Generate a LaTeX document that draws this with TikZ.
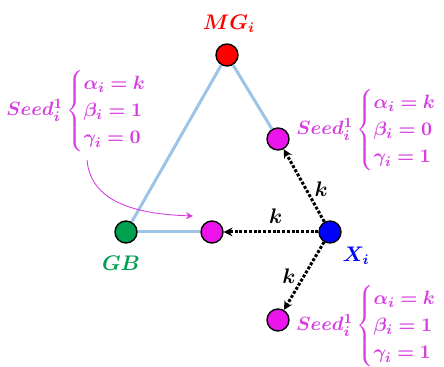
\documentclass[tikz,border=0pt]{standalone}
\usepackage{amsmath}
\usepackage{bm}
\usetikzlibrary{arrows.meta}

\definecolor{seedpink}{RGB}{214,60,224}
\definecolor{nodepink}{RGB}{235,20,235}
\definecolor{gbgreen}{RGB}{0,160,80}
\definecolor{linkblue}{RGB}{157,195,230}

\tikzset{
  vertex/.style={circle,draw=black,line width=0.8pt,minimum size=0.44cm,inner sep=0pt},
  link/.style={linkblue,line width=1.7pt},
  hop/.style={black,densely dotted,line width=1.7pt,-{Stealth[length=5pt,width=5pt]}},
  seedlabel/.style={seedpink,font=\fontsize{11.3}{13}\selectfont,inner sep=0pt},
  hoplabel/.style={black,font=\large,inner sep=1pt},
}

\newcommand{\seedtext}[3]{$\bm{Seed_i^1}\renewcommand{\arraystretch}{1.2}\left\{\begin{array}{@{}l@{}}
  \bm{\alpha_i = #1}\\ \bm{\beta_i = #2}\\ \bm{\gamma_i = #3}\end{array}\right.$}

\begin{document}
\begin{tikzpicture}[x=0.02cm,y=-0.02cm]
\useasboundingbox (0,0) rectangle (444,367);

\node (mg) [vertex,fill=red] at (227,55) {};
\node (gb) [vertex,fill=gbgreen] at (126,232) {};
\node (xi) [vertex,fill=blue] at (330,232) {};
\node (seedup) [vertex,fill=nodepink] at (278,139) {};
\node (seedmid) [vertex,fill=nodepink] at (212,232) {};
\node (seeddown) [vertex,fill=nodepink] at (278,320) {};

\node (mglabel) [red,font=\large] at (229,24) {$\bm{MG_i}$};
\node (gblabel) [gbgreen,font=\large] at (121,263) {$\bm{GB}$};
\node (xilabel) [blue,font=\large] at (356,256) {$\bm{X_i}$};

\node (leftseed) [seedlabel,anchor=west] at (6,111) {\seedtext{k}{1}{0}};
\node (upseed) [seedlabel,anchor=west] at (296,130) {\seedtext{k}{0}{1}};
\node (downseed) [seedlabel,anchor=west] at (296,326) {\seedtext{k}{1}{1}};

\draw[link] (mg) -- (gb);
\draw[link] (mg) -- (seedup);
\draw[link] (gb) -- (seedmid);

\draw[hop] (xi) -- node[pos=0.45,right=3pt,hoplabel] {$\bm{k}$} (seedup);
\draw[hop] (xi) -- node[pos=0.45,above=3pt,hoplabel] {$\bm{k}$} (seedmid);
\draw[hop] (xi) -- node[pos=0.5,left=3pt,hoplabel] {$\bm{k}$} (seeddown);

\coordinate (curvestart) at (87,160);
\draw[seedpink,line width=0.5pt,-{Stealth[length=4pt,width=4pt]}] (curvestart) to[out=-85,in=178] (193,216);
\end{tikzpicture}
\end{document}
